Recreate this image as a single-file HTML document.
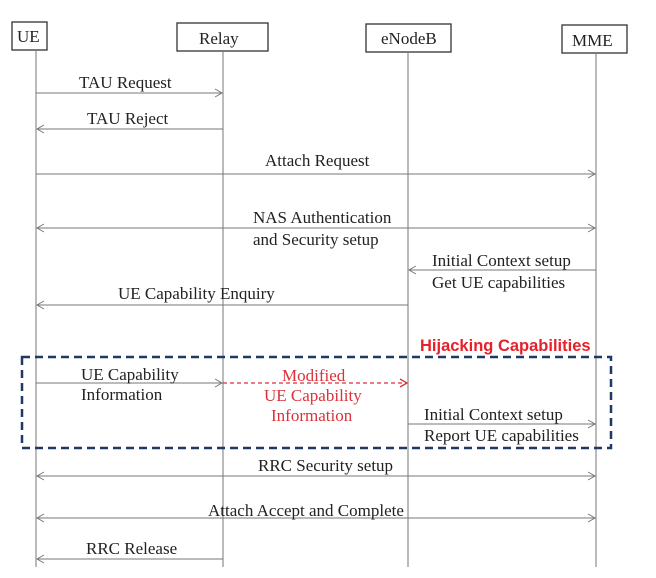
<!DOCTYPE html>
<html><head><meta charset="utf-8"><style>
html,body{margin:0;padding:0;background:#fff;}
svg text{font-family:"Liberation Serif",serif;font-size:17px;fill:#222;}
</style></head><body>
<svg width="656" height="573" viewBox="0 0 656 573" xmlns="http://www.w3.org/2000/svg">
<g fill="#fff" stroke="#333" stroke-width="1.3">
<rect x="12" y="22" width="35" height="28"/>
<rect x="177" y="23" width="91" height="28"/>
<rect x="366" y="24" width="85" height="28"/>
<rect x="562" y="25" width="65" height="28"/>
</g>
<text x="17" y="42">UE</text>
<text x="199" y="44">Relay</text>
<text x="381" y="44">eNodeB</text>
<text x="572" y="46">MME</text>
<g stroke="#777" stroke-width="1">
<line x1="36" y1="50" x2="36" y2="567"/>
<line x1="223" y1="51" x2="223" y2="567"/>
<line x1="408" y1="52" x2="408" y2="567"/>
<line x1="596" y1="53" x2="596" y2="567"/>
</g>
<g stroke="#777" stroke-width="1" fill="none">
<line x1="36" y1="93" x2="222" y2="93"/><path d="M215 89 L222 93 L215 97"/>
<line x1="37" y1="129" x2="223" y2="129"/><path d="M44 125 L37 129 L44 133"/>
<line x1="36" y1="174" x2="595" y2="174"/><path d="M588 170 L595 174 L588 178"/>
<line x1="37" y1="228" x2="595" y2="228"/><path d="M44 224 L37 228 L44 232"/><path d="M588 224 L595 228 L588 232"/>
<line x1="409" y1="270" x2="596" y2="270"/><path d="M416 266 L409 270 L416 274"/>
<line x1="37" y1="305" x2="408" y2="305"/><path d="M44 301 L37 305 L44 309"/>
<line x1="36" y1="383" x2="222" y2="383"/><path d="M215 379 L222 383 L215 387"/>
<line x1="408" y1="424" x2="595" y2="424"/><path d="M588 420 L595 424 L588 428"/>
<line x1="37" y1="476" x2="595" y2="476"/><path d="M44 472 L37 476 L44 480"/><path d="M588 472 L595 476 L588 480"/>
<line x1="37" y1="518" x2="595" y2="518"/><path d="M44 514 L37 518 L44 522"/><path d="M588 514 L595 518 L588 522"/>
<line x1="37" y1="559" x2="223" y2="559"/><path d="M44 555 L37 559 L44 563"/>
</g>
<line x1="223" y1="383" x2="406" y2="383" stroke="#d9323a" stroke-width="1.3" stroke-dasharray="4,3"/>
<path d="M400 379 L407 383 L400 387" stroke="#d9323a" stroke-width="1.3" fill="none"/>
<rect x="22" y="357" width="589" height="91" fill="none" stroke="#1f3864" stroke-width="2.5" stroke-dasharray="8,5"/>
<text x="79" y="88">TAU Request</text>
<text x="87" y="124">TAU Reject</text>
<text x="265" y="166">Attach Request</text>
<text x="253" y="223">NAS Authentication</text>
<text x="253" y="245">and Security setup</text>
<text x="432" y="266">Initial Context setup</text>
<text x="432" y="288">Get UE capabilities</text>
<text x="118" y="299">UE Capability Enquiry</text>
<text x="420" y="351" style="font-family:'Liberation Sans',sans-serif;font-weight:bold;fill:#e8202a;font-size:16.5px">Hijacking Capabilities</text>
<text x="81" y="380">UE Capability</text>
<text x="81" y="400">Information</text>
<text x="282" y="381" style="fill:#d9323a">Modified</text>
<text x="264" y="401" style="fill:#d9323a">UE Capability</text>
<text x="271" y="421" style="fill:#d9323a">Information</text>
<text x="424" y="420">Initial Context setup</text>
<text x="424" y="441">Report UE capabilities</text>
<text x="258" y="471">RRC Security setup</text>
<text x="208" y="516">Attach Accept and Complete</text>
<text x="86" y="554">RRC Release</text>
</svg>
</body></html>
